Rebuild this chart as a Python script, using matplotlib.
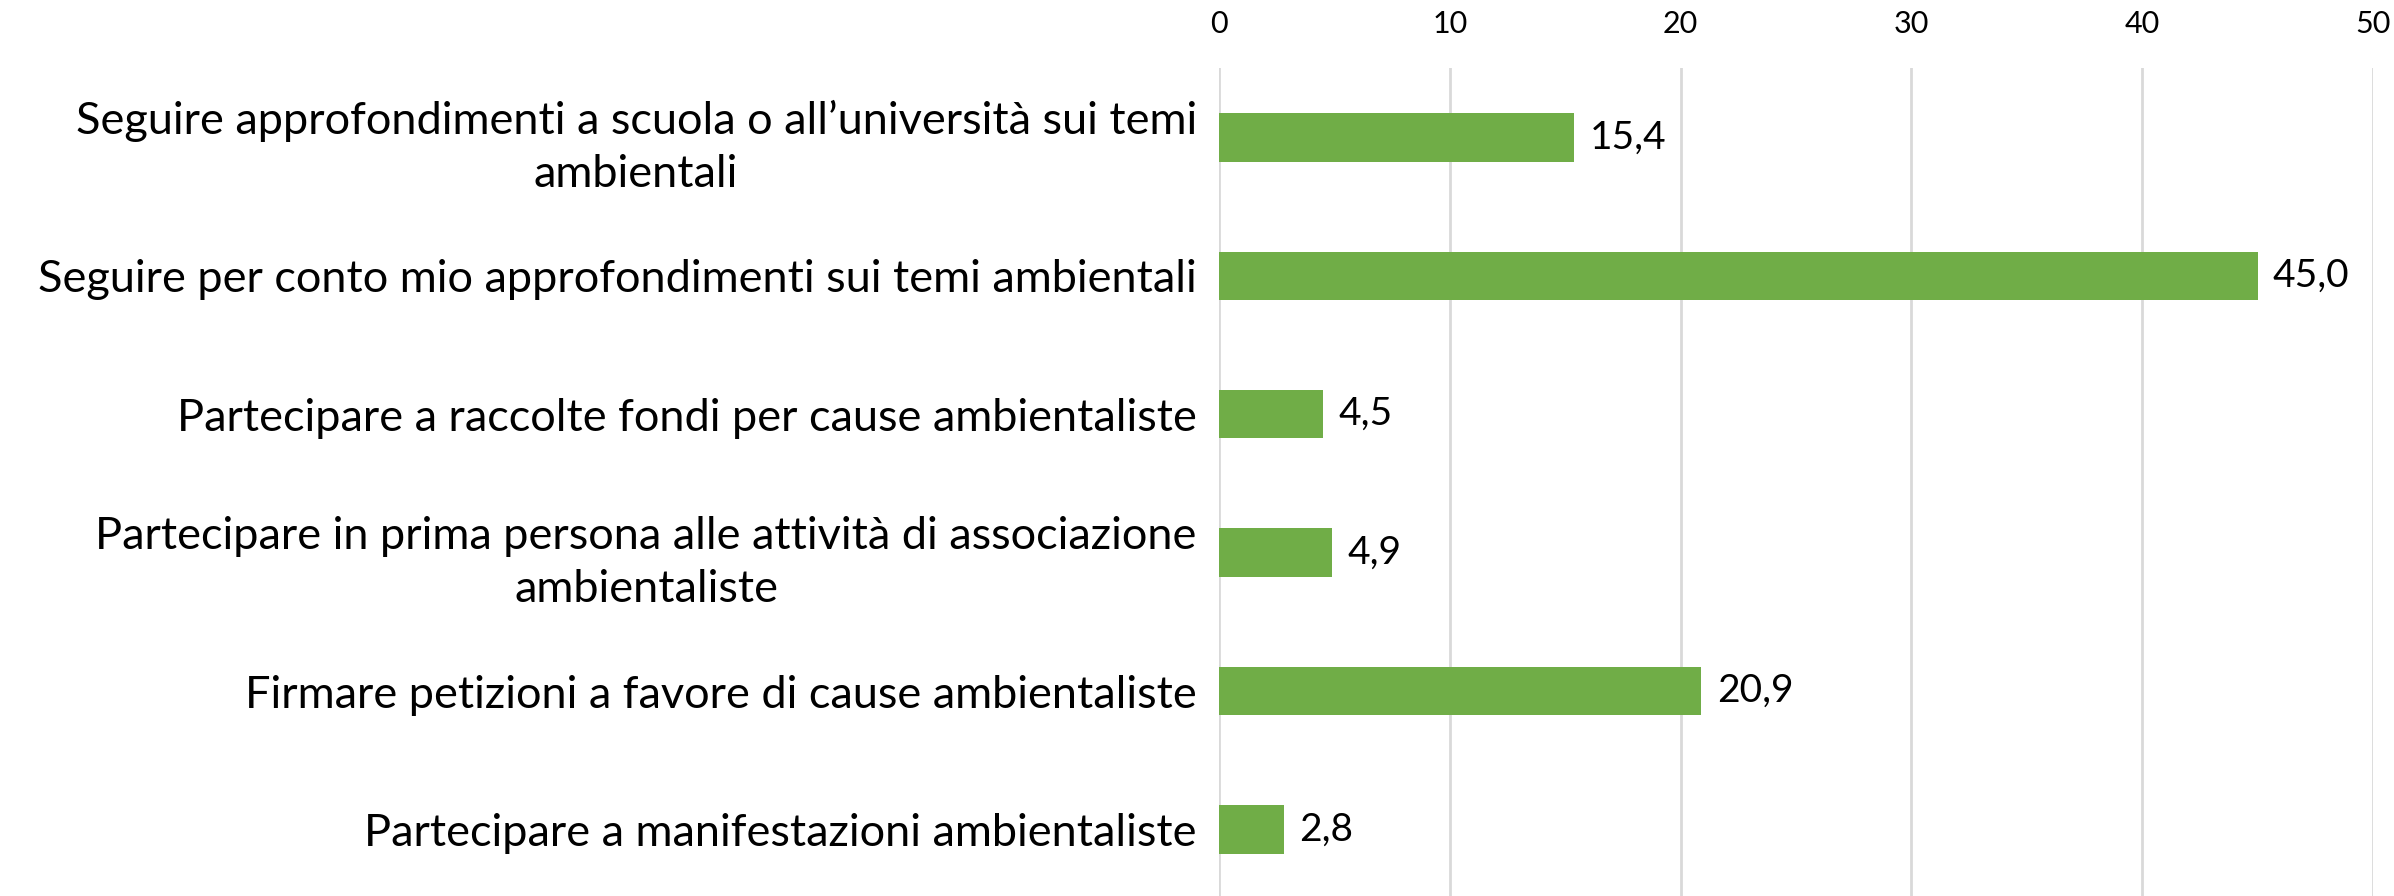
import matplotlib.pyplot as plt

categories = [
    "Seguire approfondimenti a scuola o all\u2019università sui temi\nambientali",
    "Seguire per conto mio approfondimenti sui temi ambientali",
    "Partecipare a raccolte fondi per cause ambientaliste",
    "Partecipare in prima persona alle attività di associazione\nambientaliste",
    "Firmare petizioni a favore di cause ambientaliste",
    "Partecipare a manifestazioni ambientaliste",
]
values = [15.4, 45.0, 4.5, 4.9, 20.9, 2.8]
xticks = [0, 10, 20, 30, 40, 50]

plt.rcParams['font.family'] = ['Lato', 'DejaVu Sans']

fig = plt.figure(figsize=(23.94, 8.96), dpi=100)
ax = fig.add_axes([0.5092, -0.003, 0.482, 0.927])

pos = list(range(len(categories)))
ax.barh(pos, values, height=0.35, color='#70AD47', zorder=3)
ax.set_ylim(len(categories) - 0.5, -0.5)
ax.set_xlim(0, 50)
ax.set_xticks(xticks)
ax.xaxis.tick_top()
ax.tick_params(axis='x', length=0, pad=22, labelsize=22)
ax.tick_params(axis='y', length=0, pad=16)
ax.set_yticks(pos)
ax.set_yticklabels(categories, fontsize=32.5, linespacing=1.38, ha='right')
for lbl in ax.get_yticklabels():
    lbl.set_multialignment('center')

ax.grid(axis='x', color='#d9d9d9', linewidth=2, zorder=0)
for s in ax.spines.values():
    s.set_visible(False)

for p, v in zip(pos, values):
    ax.annotate(f"{v:.1f}".replace('.', ','), xy=(v, p), xytext=(11, 0),
                textcoords='offset points', va='center', ha='left', fontsize=28)

fig.savefig('out.png', dpi=100)
